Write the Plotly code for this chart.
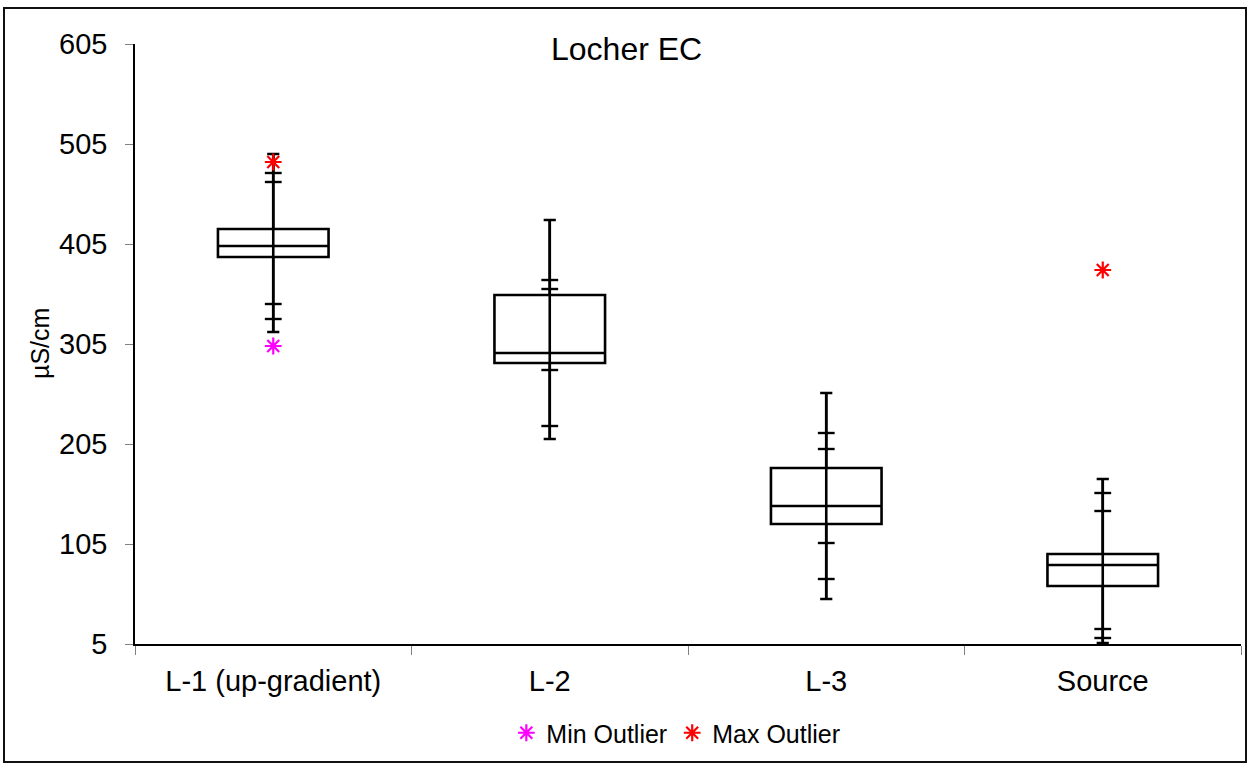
import plotly.graph_objects as go

# Electrical conductivity summary per monitoring location (µS/cm)
categories = ["L-1 (up-gradient)", "L-2", "L-3", "Source"]
upper_whisker = [495, 429, 256, 170]
upper_mark_1 = [476, 369, 216, 156]
upper_mark_2 = [467, 360, 200, 138]
q3 = [420, 354, 181, 95]
median = [403, 296, 143, 84]
q1 = [392, 286, 125, 63]
lower_mark_1 = [345, 279, 106, 20]
lower_mark_2 = [330, 223, 70, 11]
lower_whisker = [317, 210, 50, 6]

min_outlier_cats = ["L-1 (up-gradient)"]
min_outlier_vals = [303]
max_outlier_cats = ["L-1 (up-gradient)", "Source"]
max_outlier_vals = [487, 379]

y_ticks = [5, 105, 205, 305, 405, 505, 605]

FONT = "Liberation Sans, Arial, sans-serif"
W, H = 1249, 766
L, R, T, B = 135, 8, 44, 122
PW, PH = W - L - R, H - T - B


def px_x(p):
    return (p - L) / PW


def px_y(p):
    return (H - B - p) / PH


fig = go.Figure()

# Boxes with capped whiskers
fig.add_trace(go.Box(
    x=categories, q1=q1, median=median, q3=q3,
    lowerfence=lower_whisker, upperfence=upper_whisker,
    width=0.4, whiskerwidth=0.11,
    line=dict(color="black", width=2.6),
    fillcolor="rgba(0,0,0,0)",
    boxpoints=False, showlegend=False, hoverinfo="skip",
))

# Whisker line running through each box
wx, wy = [], []
for c, lo, hi in zip(categories, lower_whisker, upper_whisker):
    wx += [c, c, None]
    wy += [lo, hi, None]
fig.add_trace(go.Scatter(
    x=wx, y=wy, mode="lines",
    line=dict(color="black", width=2.6),
    showlegend=False, hoverinfo="skip",
))

# Intermediate whisker marks
mx, my = [], []
for series in (upper_mark_1, upper_mark_2, lower_mark_1, lower_mark_2):
    mx += categories
    my += series
fig.add_trace(go.Scatter(
    x=mx, y=my, mode="markers",
    marker=dict(symbol="line-ew-open", size=12, color="black",
                line=dict(color="black", width=2.4)),
    showlegend=False, hoverinfo="skip",
))

# Outliers
fig.add_trace(go.Scatter(
    x=min_outlier_cats, y=min_outlier_vals, mode="markers", name="Min Outlier",
    marker=dict(symbol="asterisk-open", size=14, color="#FF00FF",
                line=dict(color="#FF00FF", width=2.2)),
))
fig.add_trace(go.Scatter(
    x=max_outlier_cats, y=max_outlier_vals, mode="markers", name="Max Outlier",
    marker=dict(symbol="asterisk-open", size=14, color="#FF0000",
                line=dict(color="#FF0000", width=2.2)),
))

fig.update_layout(
    width=W, height=H,
    margin=dict(l=L, r=R, t=T, b=B),
    paper_bgcolor="white", plot_bgcolor="white",
    font=dict(family=FONT, color="black"),
    showlegend=True,
    legend=dict(
        orientation="h", x=0.489, y=px_y(733), xanchor="center", yanchor="middle",
        font=dict(size=25, family=FONT), itemwidth=30,
        bgcolor="rgba(0,0,0,0)",
    ),
    xaxis=dict(
        type="category", categoryorder="array", categoryarray=categories,
        range=[-0.5, 3.5], tickson="boundaries",
        ticks="outside", ticklen=9, tickcolor="#808080", tickwidth=1,
        showline=True, linecolor="black", linewidth=1.5,
        showgrid=False, zeroline=False,
        tickfont=dict(size=29, family=FONT),
        ticklabelstandoff=10,
    ),
    yaxis=dict(
        range=[5, 605], tickvals=y_ticks, ticktext=[str(v) for v in y_ticks],
        ticks="outside", ticklen=8, tickcolor="#808080", tickwidth=1,
        showline=True, linecolor="black", linewidth=1.5,
        showgrid=False, zeroline=False,
        tickfont=dict(size=29, family=FONT),
        ticklabelstandoff=12,
    ),
    shapes=[dict(
        type="rect", xref="paper", yref="paper",
        x0=px_x(4), x1=px_x(1246), y0=px_y(762), y1=px_y(8),
        line=dict(color="#111111", width=2), fillcolor="rgba(0,0,0,0)",
        layer="below",
    )],
    annotations=[
        dict(text="Locher EC", xref="paper", yref="paper",
             x=px_x(626), y=px_y(49), xanchor="center", yanchor="middle",
             showarrow=False, font=dict(size=32, family=FONT)),
        dict(text="µS/cm", xref="paper", yref="paper",
             x=px_x(40), y=0.5, xanchor="center", yanchor="middle",
             textangle=-90, showarrow=False, font=dict(size=25, family=FONT)),
    ],
)

fig.write_html("out.html")
